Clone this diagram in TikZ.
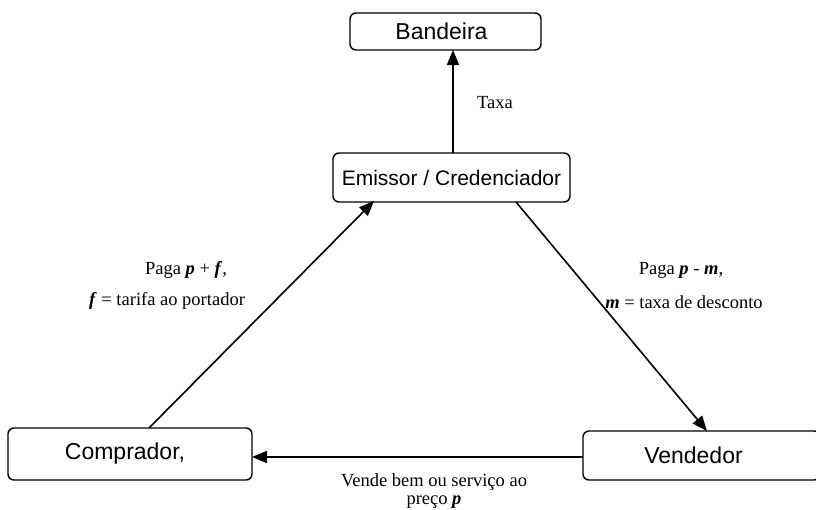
\documentclass[tikz,border=0pt]{standalone}
\usepackage{fontspec}
\setmainfont{Liberation Serif}
\newfontfamily\boxfont{Liberation Sans}
\usetikzlibrary{arrows.meta}
\begin{document}
\begin{tikzpicture}[x=1pt,y=-1pt,
  entity/.style={draw,line width=1.4pt,rounded corners=6pt,inner sep=0pt,font=\boxfont\fontsize{23}{26}\selectfont},
  flow/.style={line width=1.6pt,-{Triangle[length=15pt,width=12pt]}},
  lbl/.style={font=\fontsize{18.5}{18}\selectfont,inner sep=0pt,align=center}]
\useasboundingbox (0,0) rectangle (816,509);
\fill[white] (0,0) rectangle (816,509);
% boxes
\node[entity,minimum width=191pt,minimum height=37pt] (band) at (445.5,31.5) {\hspace*{-8pt}Bandeira};
\node[entity,minimum width=237pt,minimum height=49pt,font=\boxfont\fontsize{21}{24}\selectfont] (emis) at (451.5,177.5) {Emissor / Credenciador};
\node[entity,minimum width=244pt,minimum height=52pt] (comp) at (130,454) {\hspace*{-10pt}Comprador,};
\node[entity,minimum width=237pt,minimum height=49pt] (vend) at (701.5,455.5) {\hspace*{-16pt}Vendedor};
% anchor points
\coordinate (e1) at (453,153);
\coordinate (b1) at (453,50);
\coordinate (c1) at (149,428);
\coordinate (e2) at (374,201);
\coordinate (e3) at (516,202);
\coordinate (v1) at (707,431);
\coordinate (v2) at (583,457);
\coordinate (c2) at (252,457);
\draw[flow] (e1) -- (b1);
\draw[flow] (c1) -- (e2);
\draw[flow] (e3) -- (v1);
\draw[flow] (v2) -- (c2);
% labels
\node[lbl] (taxa) at (495,103) {Taxa};
\node[lbl] (pf1) at (186,270) {Paga \textbf{\textit{p}} + \textbf{\textit{f}},};
\node[lbl] (pf2) at (167,301) {\textbf{\textit{f}} = tarifa ao portador};
\node[lbl] (pm1) at (681,270) {Paga \textbf{\textit{p}} - \textbf{\textit{m}},};
\node[lbl] (pm2) at (684,302) {\textbf{\textit{m}} = taxa de desconto};
\node[lbl,anchor=base] (vb1) at (434,486) {Vende bem ou serviço ao};
\node[lbl,anchor=base] (vb2) at (434,504) {preço \textbf{\textit{p}}};
\end{tikzpicture}
\end{document}
